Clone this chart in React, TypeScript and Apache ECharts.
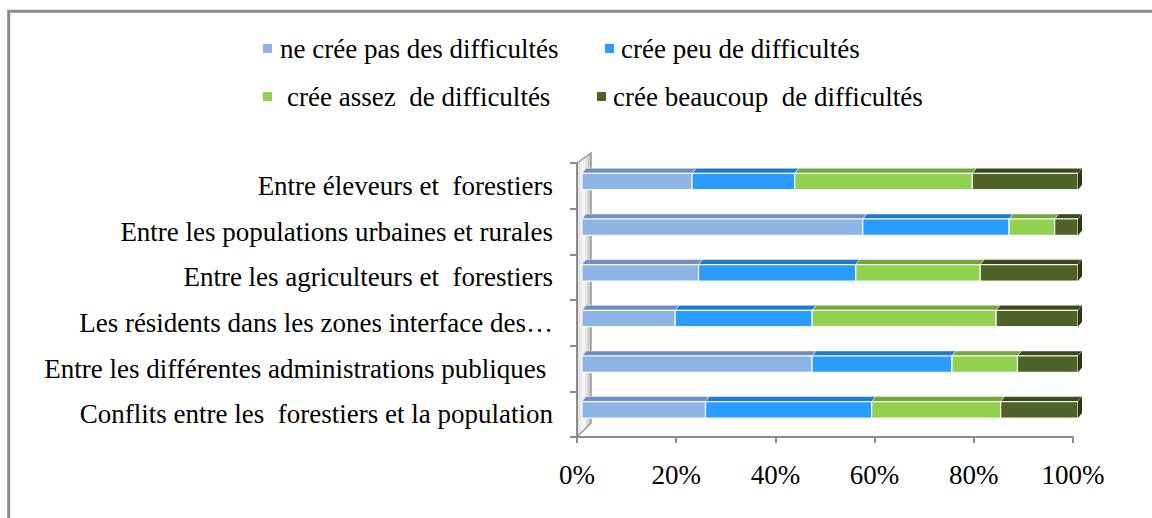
import { useEffect, useRef } from "react";
import * as echarts from "echarts";

// Survey categories, top to bottom
const categories = [
  "Entre éleveurs et  forestiers",
  "Entre les populations urbaines et rurales",
  "Entre les agriculteurs et  forestiers",
  "Les résidents dans les zones interface des…",
  "Entre les différentes administrations publiques ",
  "Conflits entre les  forestiers et la population",
];

const seriesNames = [
  "ne crée pas des difficultés",
  "crée peu de difficultés",
  "crée assez  de difficultés",
  "crée beaucoup  de difficultés",
];

// Share of answers (%) per category
const noDifficulty = [22.2, 56.6, 23.5, 18.8, 46.4, 24.9];
const fewDifficulties = [20.7, 29.5, 31.7, 27.6, 28.2, 33.5];
const someDifficulties = [35.8, 9.2, 25.1, 37.1, 13.2, 26.0];
const manyDifficulties = [21.3, 4.7, 19.7, 16.5, 12.2, 15.6];

const FONT = "Liberation Serif";
const FONT_SIZE = 27;
const AXIS_GRAY = "#8c8c8c";

const faceColors = ["#8EB4E3", "#2B9CFF", "#92D050", "#4F6228"];
const topColors = ["#6F90BE", "#1F7ACC", "#72A53C", "#3A4A1B"];
const sideColor = "#2C3812";

// legend placement (two rows of two items)
const legendLeft = [263, 605, 263, 597];
const legendTop = [35, 35, 83, 83];
const legendPad = [3, 2, 10, 2];

// plot area in pixels
const GRID_LEFT = 577;
const GRID_TOP = 163;
const GRID_RIGHT_X = 1073;
const GRID_BOTTOM_Y = 437;

function buildSegments(values: number[][]) {
  const totals = categories.map(() => 0);
  return values.map((vals) =>
    vals.map((v, i) => {
      const start = totals[i];
      totals[i] += v;
      return [i, start, totals[i], v];
    })
  );
}

// 3D-looking bar segment: front face, top face and, for the last segment, the right side
function makeRenderItem(s: number, last: boolean) {
  return (_params: any, api: any) => {
    const cat = api.value(0);
    const a = api.coord([api.value(1), cat]);
    const b = api.coord([api.value(2), cat]);
    const band = api.size([0, 1])[1];
    const ox = 5;
    const dx = 4;
    const dy = 5;
    const h = band * 0.36;
    const yTop = a[1] - band * 0.275;
    const xL = a[0] + ox;
    const xR = b[0] + ox;
    const children: any[] = [
      {
        type: "polygon",
        shape: {
          points: [
            [xL, yTop],
            [xR, yTop],
            [xR + dx, yTop - dy],
            [xL + dx, yTop - dy],
          ],
        },
        style: { fill: topColors[s], stroke: "rgba(255,255,255,0.6)", lineWidth: 0.8 },
      },
      {
        type: "rect",
        shape: { x: xL, y: yTop, width: xR - xL, height: h },
        style: { fill: faceColors[s], stroke: "rgba(255,255,255,0.9)", lineWidth: 1.2 },
      },
    ];
    if (last) {
      children.push({
        type: "polygon",
        shape: {
          points: [
            [xR, yTop],
            [xR + dx, yTop - dy],
            [xR + dx, yTop + h - dy],
            [xR, yTop + h],
          ],
        },
        style: { fill: sideColor },
      });
    }
    return { type: "group", children };
  };
}

export default function App() {
  const ref = useRef<HTMLDivElement>(null);

  useEffect(() => {
    if (!ref.current) return;
    const chart = echarts.init(ref.current, null, { renderer: "svg" });
    const segments = buildSegments([
      noDifficulty,
      fewDifficulties,
      someDifficulties,
      manyDifficulties,
    ]);

    chart.setOption({
      animation: false,
      backgroundColor: "#ffffff",
      textStyle: { fontFamily: FONT },
      grid: {
        left: GRID_LEFT,
        top: GRID_TOP,
        right: 1152 - GRID_RIGHT_X,
        bottom: 518 - GRID_BOTTOM_Y,
        containLabel: false,
        outerBoundsMode: "none",
      },
      legend: seriesNames.map((n, i) => ({
        data: [n],
        left: legendLeft[i],
        top: legendTop[i],
        padding: 0,
        itemWidth: 9,
        itemHeight: 9,
        icon: "rect",
        selectedMode: false,
        formatter: (name: string) => "{t|" + name + "}",
        textStyle: {
          fontFamily: FONT,
          fontSize: FONT_SIZE,
          color: "#000",
          rich: {
            t: {
              fontFamily: FONT,
              fontSize: FONT_SIZE,
              color: "#000",
              padding: [0, 0, 0, legendPad[i]],
            },
          },
        },
      })),
      xAxis: {
        type: "value",
        min: 0,
        max: 100,
        interval: 20,
        axisLine: { show: true, lineStyle: { color: AXIS_GRAY, width: 2 } },
        axisTick: { show: true, length: 6, lineStyle: { color: AXIS_GRAY, width: 2 } },
        splitLine: { show: false },
        axisLabel: {
          formatter: "{value}%",
          fontFamily: FONT,
          fontSize: FONT_SIZE,
          color: "#000",
          margin: 24,
        },
      },
      yAxis: {
        type: "category",
        data: categories,
        inverse: true,
        axisLine: { show: true, lineStyle: { color: AXIS_GRAY, width: 2 } },
        axisTick: { show: true, length: 7, lineStyle: { color: AXIS_GRAY, width: 2 } },
        axisLabel: {
          fontFamily: FONT,
          fontSize: FONT_SIZE,
          color: "#000",
          margin: 24,
        },
      },
      graphic: [
        // side wall of the 3D plot
        {
          type: "polygon",
          z: 0,
          shape: {
            points: [
              [GRID_LEFT, GRID_TOP],
              [GRID_LEFT + 14, GRID_TOP - 10],
              [GRID_LEFT + 14, GRID_BOTTOM_Y - 14],
              [GRID_LEFT, GRID_BOTTOM_Y],
            ],
          },
          style: {
            fill: new echarts.graphic.LinearGradient(0, 0, 1, 0, [
              { offset: 0, color: "#dcdcdc" },
              { offset: 0.5, color: "#f7f7f7" },
              { offset: 1, color: "#bcbcbc" },
            ]),
            stroke: "#9a9a9a",
            lineWidth: 1.5,
          },
        },
        // outer frame
        {
          type: "rect",
          z: 0,
          shape: { x: 8.7, y: 11.3, width: 1200, height: 600 },
          style: { fill: "none", stroke: "#8a8a8a", lineWidth: 3 },
        },
      ],
      series: seriesNames.map((name, s) => ({
        name,
        type: "custom",
        itemStyle: { color: faceColors[s] },
        encode: { x: [1, 2], y: 0 },
        renderItem: makeRenderItem(s, s === seriesNames.length - 1),
        data: segments[s],
        z: 3,
      })),
    });

    return () => chart.dispose();
  }, []);

  return (
    <div
      ref={ref}
      style={{ position: "fixed", left: 0, top: 0, width: 1152, height: 518, background: "#fff" }}
    />
  );
}
